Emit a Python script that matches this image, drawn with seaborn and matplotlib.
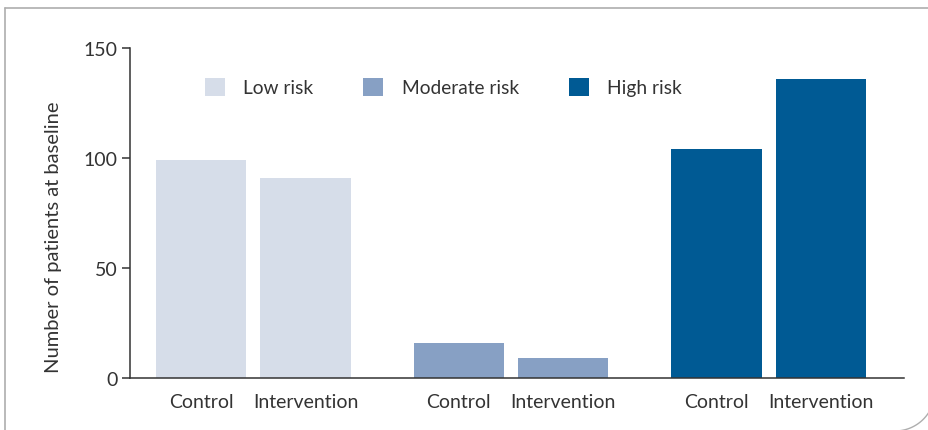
import matplotlib
matplotlib.use("Agg")
import matplotlib.pyplot as plt
import seaborn as sns
import pandas as pd
import numpy as np
from matplotlib.patches import Patch
from matplotlib.lines import Line2D

groups = ["Low risk", "Moderate risk", "High risk"]
arms = ["Control", "Intervention"]
low_risk = [99, 91]
moderate_risk = [16, 9]
high_risk = [104, 136]
colors = ["#D6DDE9", "#87A0C4", "#005A94"]
y_ticks = [0, 50, 100, 150]
y_label = "Number of patients at baseline"

rows = []
for g, vals in zip(groups, [low_risk, moderate_risk, high_risk]):
    for a, v in zip(arms, vals):
        rows.append({"group": g, "arm": a, "value": v})
df = pd.DataFrame(rows)

sns.set_theme(style="white")
plt.rcParams["font.family"] = ["Lato", "DejaVu Sans"]
TXT = "#333333"
W, H = 929, 431

fig = plt.figure(figsize=(W / 100, H / 100), dpi=100)
ax = fig.add_axes([130 / W, 1 - 379 / H, 774 / W, 330 / H])
sns.barplot(data=df, x="group", y="value", hue="arm", order=groups,
            hue_order=arms, width=0.81, gap=0.135, ax=ax, legend=False,
            saturation=1, errorbar=None)

centers, labels = [], []
for cont, arm in zip(ax.containers, arms):
    for i, bar in enumerate(cont):
        bar.set_facecolor(colors[i])
        bar.set_edgecolor("none")
        centers.append(bar.get_x() + bar.get_width() / 2)
        labels.append(arm)

ax.set_xticks(centers)
ax.set_xticklabels(labels)
ax.set_xlim(-0.479, 2.525)
ax.set_ylim(0, 150)
ax.set_yticks(y_ticks)
ax.set_xlabel("")
ax.set_ylabel(y_label, fontsize=14.5, color=TXT)
ax.yaxis.set_label_coords(-0.088, 0.43)

for s in ["top", "right"]:
    ax.spines[s].set_visible(False)
for s in ["left", "bottom"]:
    ax.spines[s].set_color(TXT)
    ax.spines[s].set_linewidth(1.1)

ax.tick_params(axis="x", length=0, pad=11, labelsize=14, labelcolor=TXT)
ax.tick_params(axis="y", length=6, width=1.1, color=TXT, direction="out",
               pad=3, labelsize=14, labelcolor=TXT, left=True)

handles = [Patch(facecolor=c, edgecolor="none") for c in colors]
ax.legend(handles, groups, ncol=3, loc="center left",
          bbox_to_anchor=(0.097, 0.882), frameon=False, borderaxespad=0,
          borderpad=0, handlelength=1.05, handleheight=1.05, handletextpad=0.95,
          columnspacing=2.6, fontsize=13.8, labelcolor=TXT)

# outer frame
fc = "#AEAEAE"
fig.add_artist(Line2D([5 / W, 5 / W], [0, 1 - 9 / H], transform=fig.transFigure,
                      color=fc, lw=1.2))
fig.add_artist(Line2D([5 / W, 1], [1 - 9 / H, 1 - 9 / H], transform=fig.transFigure,
                      color=fc, lw=1.2))
th = np.linspace(0, np.pi / 2, 60)
cx, cy, r = 895, 392, 40
px = cx + r * np.cos(th)
py = cy + r * np.sin(th)
fig.add_artist(Line2D(px / W, 1 - py / H, transform=fig.transFigure,
                      color=fc, lw=1.0))

fig.savefig("out.png", dpi=100)
